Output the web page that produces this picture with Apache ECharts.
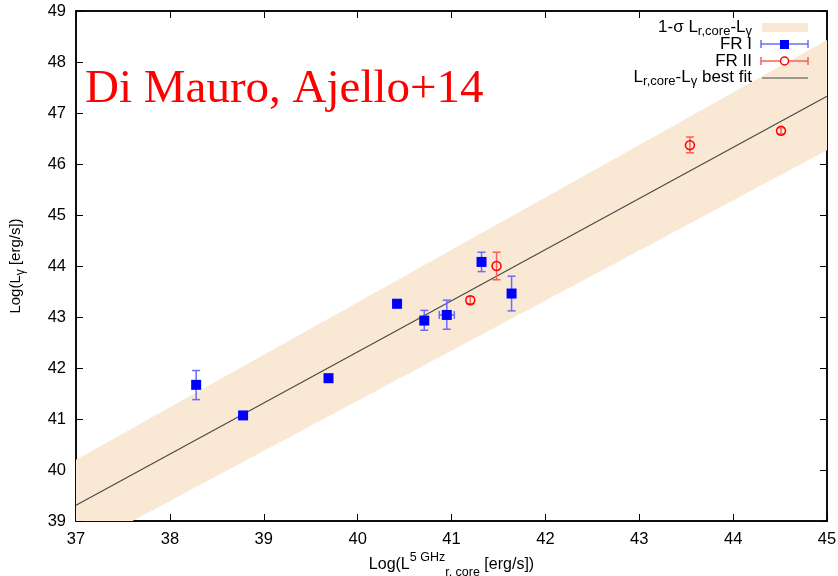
<!DOCTYPE html>
<html>
<head>
<meta charset="utf-8">
<script src="https://cdn.jsdelivr.net/npm/echarts@6/dist/echarts.min.js"></script>
<style>html,body{margin:0;padding:0;background:#fff}#c{width:838px;height:576px}</style>
</head>
<body>
<div id="c"></div>
<script>
// ---- data ----
const xTicks = [37, 38, 39, 40, 41, 42, 43, 44, 45];
const yTicks = [39, 40, 41, 42, 43, 44, 45, 46, 47, 48, 49];

const bandX = [37, 45];
const bandUpper = [40.2, 48.43];
const bandLower = [38.41, 46.27];

const fitX = [37, 45];
const fitY = [39.31, 47.33];

const fr1X   = [38.28, 38.78, 39.69, 40.42, 40.71, 40.95, 41.32, 41.64];
const fr1Y   = [41.67, 41.07, 41.80, 43.26, 42.93, 43.04, 44.08, 43.46];
const fr1YLo = [41.38, 41.03, 41.73, 43.18, 42.74, 42.76, 43.89, 43.12];
const fr1YHi = [41.95, 41.11, 41.86, 43.34, 43.13, 43.33, 44.27, 43.80];
const fr1XErr = [0, 0, 0, 0.03, 0, 0.08, 0, 0];

const fr2X   = [41.20, 41.48, 43.54, 44.51];
const fr2Y   = [43.33, 44.00, 46.37, 46.65];
const fr2YLo = [43.26, 43.73, 46.22, 46.59];
const fr2YHi = [43.40, 44.27, 46.53, 46.71];
const fr2XErr = [0, 0, 0, 0];

const BLUE = '#0000ff', BLUE_BAR = '#6b6bff';
const RED = '#ff0000', RED_BAR = '#ff5c5c';
const BAND = '#f9e8d4';
const FIT = '#4a4a4a';
const FONT = 'Liberation Sans';

const chart = echarts.init(document.getElementById('c'), null, {renderer: 'canvas'});

function errSeries(name, xs, ys, lo, hi, xe, color) {
  const data = xs.map((x, i) => [x, ys[i], lo[i], hi[i], xe[i]]);
  return {
    type: 'custom', name: name, z: 3, clip: true,
    data: data,
    renderItem: function (params, api) {
      const x = api.value(0), y = api.value(1), l = api.value(2), h = api.value(3), e = api.value(4);
      const pL = api.coord([x, l]), pH = api.coord([x, h]);
      const cap = 4;
      const st = {stroke: color, lineWidth: 1.5};
      const ch = [
        {type: 'line', shape: {x1: pL[0], y1: pL[1], x2: pH[0], y2: pH[1]}, style: st},
        {type: 'line', shape: {x1: pL[0] - cap, y1: pL[1], x2: pL[0] + cap, y2: pL[1]}, style: st},
        {type: 'line', shape: {x1: pH[0] - cap, y1: pH[1], x2: pH[0] + cap, y2: pH[1]}, style: st}
      ];
      if (e > 0) {
        const a = api.coord([x - e, y]), b = api.coord([x + e, y]);
        ch.push({type: 'line', shape: {x1: a[0], y1: a[1], x2: b[0], y2: b[1]}, style: st});
        ch.push({type: 'line', shape: {x1: a[0], y1: a[1] - cap, x2: a[0], y2: a[1] + cap}, style: st});
        ch.push({type: 'line', shape: {x1: b[0], y1: b[1] - cap, x2: b[0], y2: b[1] + cap}, style: st});
      }
      return {type: 'group', children: ch};
    }
  };
}

const legendRich = {
  b: {fontSize: 17, fontFamily: FONT, fill: '#000', color: '#000', lineHeight: 22, verticalAlign: 'middle'},
  sub: {fontSize: 13, fontFamily: FONT, fill: '#000', color: '#000', lineHeight: 14, verticalAlign: 'bottom'}
};

const option = {
  animation: false,
  backgroundColor: '#fff',
  grid: {left: 76, right: 11, top: 11, bottom: 55, show: true, borderColor: '#000', borderWidth: 1.5,
    outerBoundsMode: 'none', containLabel: false},
  xAxis: [{
    type: 'value', min: 37, max: 45, interval: 1,
    axisLine: {show: true, lineStyle: {color: '#000', width: 1.5}},
    axisTick: {show: true, inside: true, length: 7, lineStyle: {color: '#000', width: 1}},
    splitLine: {show: false},
    axisLabel: {color: '#000', fontSize: 16.5, fontFamily: FONT, margin: 10,
      formatter: v => xTicks.indexOf(v) >= 0 ? String(v) : ''},
    name: '{b|Log(L}{sup|5 GHz}{sub|r, core}{b| [erg/s])}',
    nameLocation: 'middle', nameGap: 30, nameMoveOverlap: false,
    nameTextStyle: {
      rich: {
        b: {fontSize: 16, fontFamily: FONT, color: '#000', lineHeight: 28, verticalAlign: 'middle'},
        sup: {fontSize: 12.5, fontFamily: FONT, color: '#000', lineHeight: 10, verticalAlign: 'top'},
        sub: {fontSize: 12.5, fontFamily: FONT, color: '#000', lineHeight: 22, verticalAlign: 'bottom'}
      }
    }
  }, {
    type: 'value', position: 'top', min: 37, max: 45, interval: 1,
    axisLine: {show: true, lineStyle: {color: '#000', width: 1.5}},
    axisTick: {show: true, inside: true, length: 7, lineStyle: {color: '#000', width: 1}},
    axisLabel: {show: false}, splitLine: {show: false}
  }],
  yAxis: [{
    type: 'value', min: 39, max: 49, interval: 1,
    axisLine: {show: true, lineStyle: {color: '#000', width: 1.5}},
    axisTick: {show: true, inside: true, length: 7, lineStyle: {color: '#000', width: 1}},
    splitLine: {show: false},
    axisLabel: {color: '#000', fontSize: 16.5, fontFamily: FONT, margin: 10,
      formatter: v => yTicks.indexOf(v) >= 0 ? String(v) : ''},
    name: '{b|Log(L}{sub|γ}{b| [erg/s])}',
    nameLocation: 'middle', nameGap: 49, nameRotate: 90, nameMoveOverlap: false,
    nameTextStyle: {
      rich: {
        b: {fontSize: 15, fontFamily: FONT, color: '#000', lineHeight: 22, verticalAlign: 'middle'},
        sub: {fontSize: 12, fontFamily: FONT, color: '#000', lineHeight: 14, verticalAlign: 'bottom'}
      }
    }
  }, {
    type: 'value', position: 'right', min: 39, max: 49, interval: 1,
    axisLine: {show: true, lineStyle: {color: '#000', width: 1.5}},
    axisTick: {show: true, inside: true, length: 7, lineStyle: {color: '#000', width: 1}},
    axisLabel: {show: false}, splitLine: {show: false}
  }],
  series: [
    {
      type: 'custom', name: 'band', z: 1, clip: true, silent: true,
      data: bandX.map((x, i) => [x, bandUpper[i], bandLower[i]]),
      renderItem: function (params, api) {
        if (params.dataIndex !== 0) return null;
        const pts = [];
        for (let i = 0; i < bandX.length; i++) pts.push(api.coord([bandX[i], bandUpper[i]]));
        for (let i = bandX.length - 1; i >= 0; i--) pts.push(api.coord([bandX[i], bandLower[i]]));
        return {type: 'polygon', shape: {points: pts}, style: {fill: BAND}};
      }
    },
    {
      type: 'line', name: 'fit', z: 2, symbol: 'none', silent: true,
      data: fitX.map((x, i) => [x, fitY[i]]),
      lineStyle: {color: FIT, width: 1.2}
    },
    errSeries('FR I err', fr1X, fr1Y, fr1YLo, fr1YHi, fr1XErr, BLUE_BAR),
    errSeries('FR II err', fr2X, fr2Y, fr2YLo, fr2YHi, fr2XErr, RED_BAR),
    {
      type: 'scatter', name: 'FR I', z: 4, symbol: 'rect', symbolSize: 10,
      data: fr1X.map((x, i) => [x, fr1Y[i]]),
      itemStyle: {color: BLUE, opacity: 1}
    },
    {
      type: 'scatter', name: 'FR II', z: 4, symbol: 'circle', symbolSize: 9,
      data: fr2X.map((x, i) => [x, fr2Y[i]]),
      itemStyle: {color: 'rgba(255,255,255,0)', borderColor: RED, borderWidth: 1.5, opacity: 1}
    }
  ],
  graphic: [
    {type: 'text', left: 85, top: 66, z: 10,
      style: {text: 'Di Mauro, Ajello+14', fill: RED, font: '47px "Liberation Serif"'}},
    // legend
    {type: 'text', z: 10, x: 752, y: 27,
      style: {text: '{b|1-σ L}{sub|r,core}{b|-L}{sub|γ}', align: 'right', verticalAlign: 'middle', rich: legendRich}},
    {type: 'rect', z: 10, shape: {x: 762, y: 23, width: 46, height: 9}, style: {fill: BAND}},
    {type: 'text', z: 10, x: 752, y: 44,
      style: {text: 'FR I', align: 'right', verticalAlign: 'middle', font: '17px "Liberation Sans"', fill: '#000'}},
    {type: 'line', z: 10, shape: {x1: 761, y1: 44, x2: 808, y2: 44}, style: {stroke: BLUE_BAR, lineWidth: 1.5}},
    {type: 'line', z: 10, shape: {x1: 761, y1: 40, x2: 761, y2: 48}, style: {stroke: BLUE_BAR, lineWidth: 1.5}},
    {type: 'line', z: 10, shape: {x1: 808, y1: 40, x2: 808, y2: 48}, style: {stroke: BLUE_BAR, lineWidth: 1.5}},
    {type: 'rect', z: 11, shape: {x: 780, y: 40, width: 9, height: 9}, style: {fill: BLUE}},
    {type: 'text', z: 10, x: 752, y: 61,
      style: {text: 'FR II', align: 'right', verticalAlign: 'middle', font: '17px "Liberation Sans"', fill: '#000'}},
    {type: 'line', z: 10, shape: {x1: 761, y1: 61, x2: 808, y2: 61}, style: {stroke: RED_BAR, lineWidth: 1.5}},
    {type: 'line', z: 10, shape: {x1: 761, y1: 57, x2: 761, y2: 65}, style: {stroke: RED_BAR, lineWidth: 1.5}},
    {type: 'line', z: 10, shape: {x1: 808, y1: 57, x2: 808, y2: 65}, style: {stroke: RED_BAR, lineWidth: 1.5}},
    {type: 'circle', z: 11, shape: {cx: 784.5, cy: 61, r: 4}, style: {fill: '#fff', stroke: RED, lineWidth: 1.5}},
    {type: 'text', z: 10, x: 752, y: 77,
      style: {text: '{b|L}{sub|r,core}{b|-L}{sub|γ}{b| best fit}', align: 'right', verticalAlign: 'middle', rich: legendRich}},
    {type: 'line', z: 10, shape: {x1: 762, y1: 78, x2: 808, y2: 78}, style: {stroke: FIT, lineWidth: 1.2}}
  ]
};
chart.setOption(option);
</script>
</body>
</html>
